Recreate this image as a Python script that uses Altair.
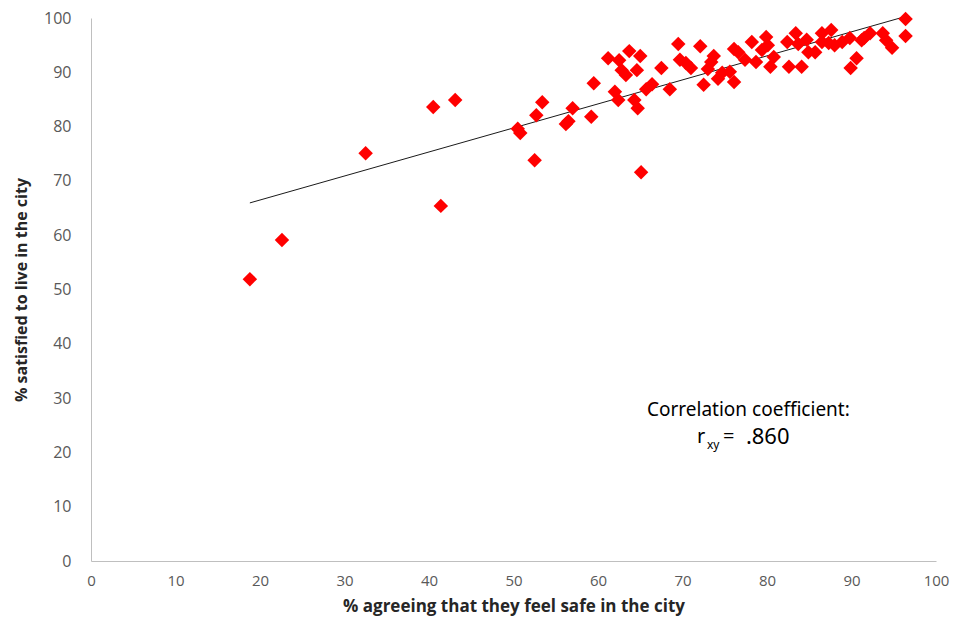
import altair as alt
import pandas as pd

safe = [18.8, 22.6, 32.5, 40.5, 41.4, 43.1, 50.5, 50.8, 52.5, 52.7, 53.4, 56.2, 56.5, 57.0,
        59.2, 59.5, 61.2, 62.0, 62.4, 62.5, 62.8, 63.3, 63.7, 64.3, 64.7, 64.6, 65.0, 65.1,
        65.7, 66.4, 67.5, 68.5, 69.5, 69.7, 70.4, 71.0, 72.1, 72.5, 73.0, 73.4, 73.7, 74.2,
        74.7, 75.6, 76.1, 76.6, 76.1, 77.4, 78.2, 78.7, 79.4, 79.9, 80.1, 80.4, 80.8, 82.4,
        82.6, 83.4, 83.7, 84.1, 84.7, 84.9, 85.7, 86.5, 86.5, 87.3, 87.6, 88.0, 88.9, 89.8,
        89.9, 90.6, 91.2, 91.5, 92.2, 93.7, 94.1, 94.8, 96.4, 96.4]
satisfied = [51.9, 59.1, 75.1, 83.6, 65.4, 84.9, 79.6, 78.8, 73.8, 82.1, 84.5, 80.5, 81.0, 83.4,
             81.8, 88.0, 92.6, 86.4, 84.9, 92.2, 90.4, 89.5, 93.9, 84.9, 83.4, 90.4, 93.0, 71.6,
             86.9, 87.8, 90.8, 86.9, 95.2, 92.3, 91.7, 90.8, 94.8, 87.7, 90.6, 91.9, 93.0, 88.8,
             89.9, 90.1, 94.3, 93.7, 88.2, 92.3, 95.6, 91.9, 94.1, 96.5, 95.0, 91.0, 92.8, 95.6,
             91.0, 97.2, 95.2, 91.0, 96.0, 93.7, 93.7, 95.6, 97.2, 95.4, 97.8, 95.0, 95.6, 96.3,
             90.8, 92.6, 95.9, 96.3, 97.2, 97.2, 95.9, 94.5, 99.8, 96.7]

ticks = [0, 10, 20, 30, 40, 50, 60, 70, 80, 90, 100]

df = pd.DataFrame({"safe": safe, "satisfied": satisfied})

FONT = "Open Sans, sans-serif"

xs = alt.Scale(domain=[0, 100], nice=False)
ys = alt.Scale(domain=[0, 100], nice=False)

xax = alt.Axis(values=ticks, grid=False, ticks=False, domainColor="#BFBFBF",
               labelColor="#595959", labelFont=FONT, labelFontSize=15, labelPadding=12,
               labelFlush=False,
               title="% agreeing that they feel safe in the city", titleFont=FONT,
               titleFontSize=17, titleFontWeight="bold", titleColor="#262626", titlePadding=10)
yax = alt.Axis(values=ticks, grid=False, ticks=False, domainColor="#BFBFBF",
               labelColor="#595959", labelFont=FONT, labelFontSize=16, labelPadding=20,
               labelFlush=False,
               title="% satisfied to live in the city", titleFont=FONT,
               titleFontSize=16, titleFontWeight="bold", titleColor="#262626", titlePadding=14)

base = alt.Chart(df)

points = base.mark_point(shape="diamond", filled=True, color="#FF0000", size=210, opacity=1).encode(
    x=alt.X("safe:Q", scale=xs, axis=xax),
    y=alt.Y("satisfied:Q", scale=ys, axis=yax),
)

trend = base.transform_regression("safe", "satisfied").mark_line(
    color="#1a1a1a", strokeWidth=1
).encode(x=alt.X("safe:Q", scale=xs), y=alt.Y("satisfied:Q", scale=ys))

ANN_FONT = "Noto Sans, sans-serif"
def label(text, x, y, size, align="left"):
    return alt.Chart(pd.DataFrame({"t": [text]})).mark_text(
        font=ANN_FONT, fontSize=size, color="#000000", align=align, baseline="middle"
    ).encode(x=alt.datum(x), y=alt.datum(y), text="t:N")

t1 = label("Correlation coefficient:", 77.8, 27.8, 19, "center")
t2 = label("r", 72.7, 22.8, 20, "right")
t3 = label("xy", 72.9, 21.4, 12)
t4 = label("=", 74.8, 22.8, 20)
t5 = label(".860", 77.5, 22.8, 22)

chart = alt.layer(trend, points, t1, t2, t3, t4, t5).properties(
    width=845, height=543,
    autosize=alt.AutoSizeParams(type="none"),
    padding={"left": 83, "top": 10, "right": 15, "bottom": 60},
).configure_view(stroke=None)

chart.save("out.html", embed_options={"renderer": "svg", "actions": False})
